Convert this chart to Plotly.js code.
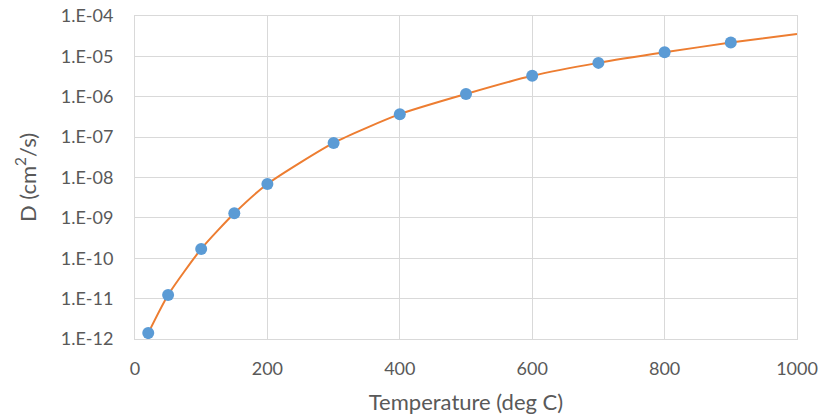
<!DOCTYPE html>
<html>
<head>
<meta charset="utf-8">
<script src="https://cdn.plot.ly/plotly-3.0.1.min.js"></script>
<style>html,body{margin:0;padding:0;background:#fff;}#chart{width:831px;height:416px;}</style>
</head>
<body>
<div id="chart"></div>
<script>
// Measured data points (temperature in deg C, diffusivity D in cm^2/s)
var temperature = [20, 50, 100, 150, 200, 300, 400, 500, 600, 700, 800, 900];
var diffusivity = [1.4e-12, 1.23e-11, 1.7e-10, 1.3e-9, 6.9e-9, 7.2e-8, 3.7e-7, 1.17e-6, 3.3e-6, 6.9e-6, 1.26e-5, 2.2e-5];
// Trend line (passes through points, extends to 1000)
var lineTemperature = [20, 50, 100, 150, 200, 300, 400, 500, 600, 700, 800, 900, 1000];
var lineDiffusivity = [1.4e-12, 1.23e-11, 1.7e-10, 1.3e-9, 6.9e-9, 7.2e-8, 3.7e-7, 1.17e-6, 3.3e-6, 6.9e-6, 1.26e-5, 2.2e-5, 3.6e-5];
var yTickVals = [1e-12, 1e-11, 1e-10, 1e-9, 1e-8, 1e-7, 1e-6, 1e-5, 1e-4];
var yTickText = ["1.E-12", "1.E-11", "1.E-10", "1.E-09", "1.E-08", "1.E-07", "1.E-06", "1.E-05", "1.E-04"];
var xTickVals = [0, 200, 400, 600, 800, 1000];

var tickFont = {family: "Lato, Open Sans, sans-serif", size: 18, color: "#595959"};
var titleFont = {family: "Lato, Open Sans, sans-serif", size: 22, color: "#595959"};

var traces = [
  {
    x: lineTemperature, y: lineDiffusivity, type: "scatter", mode: "lines",
    line: {color: "#ed7d31", width: 2, shape: "spline", smoothing: 0.6},
    hoverinfo: "skip", showlegend: false
  },
  {
    x: temperature, y: diffusivity, type: "scatter", mode: "markers",
    marker: {color: "#5b9bd5", size: 12},
    showlegend: false
  }
];

var layout = {
  width: 831, height: 416,
  margin: {l: 135, r: 34, t: 16, b: 77},
  paper_bgcolor: "#ffffff", plot_bgcolor: "#ffffff",
  font: tickFont,
  xaxis: {
    range: [0, 1000], tickvals: xTickVals, ticktext: xTickVals.map(String),
    showgrid: true, gridcolor: "#d9d9d9", gridwidth: 1,
    showline: true, linecolor: "#d9d9d9", mirror: true, zeroline: false,
    ticks: "", ticklen: 0, tickfont: tickFont, ticklabelstandoff: 13,
    automargin: false,
    title: {text: "Temperature (deg C)", font: titleFont, standoff: 17}
  },
  yaxis: {
    type: "log", range: [-12, -4], tickvals: yTickVals, ticktext: yTickText,
    showgrid: true, gridcolor: "#d9d9d9", gridwidth: 1,
    showline: true, linecolor: "#d9d9d9", mirror: true, zeroline: false,
    ticks: "", ticklen: 0, tickfont: tickFont, ticklabelstandoff: 17,
    automargin: false,
    title: {text: "D (cm<sup>2</sup>/s)", font: titleFont, standoff: 18}
  }
};

Plotly.newPlot("chart", traces, layout, {displayModeBar: false, staticPlot: true});
</script>
</body>
</html>
